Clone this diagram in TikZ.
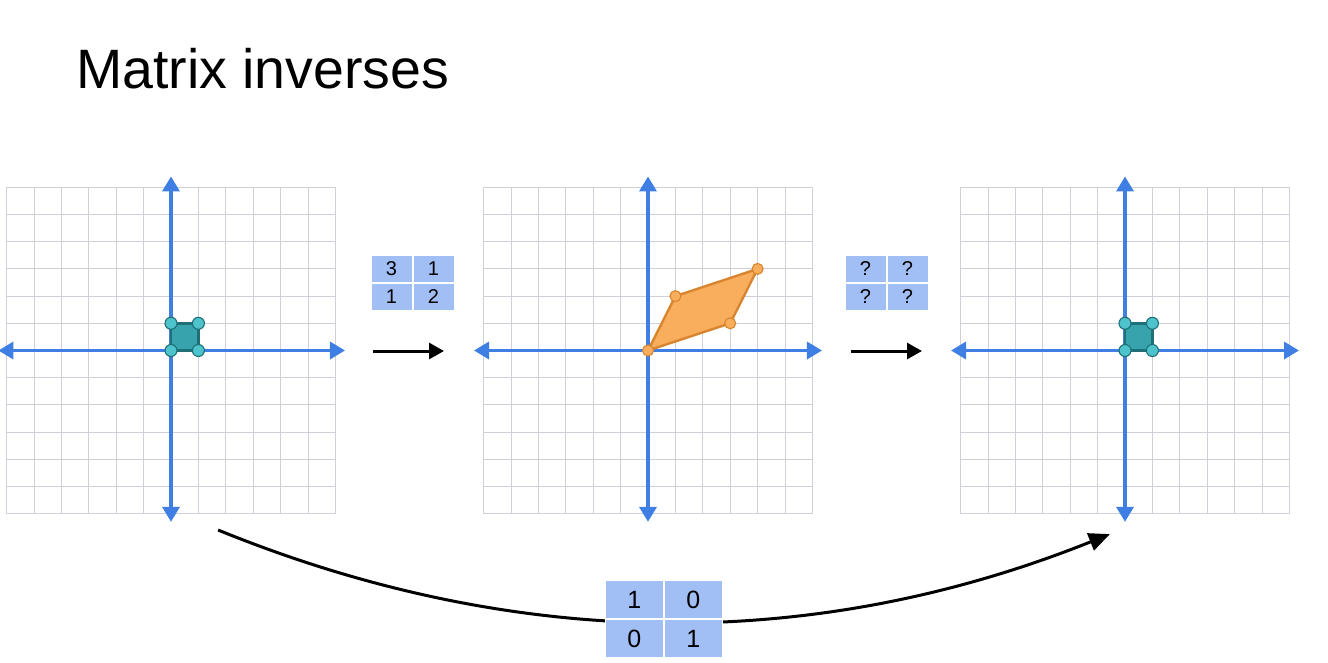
\documentclass[tikz,border=0pt]{standalone}
\usepackage{fontspec}
\setmainfont{Liberation Sans}
\usetikzlibrary{arrows.meta,matrix}
\definecolor{gridc}{HTML}{D0D0D8}
\definecolor{axisc}{HTML}{3F7FE4}
\definecolor{cellc}{HTML}{A2BFF5}
\definecolor{teal1}{HTML}{36A3AD}
\definecolor{teal2}{HTML}{1E6F78}
\definecolor{teal3}{HTML}{4EC3CC}
\definecolor{org1}{HTML}{F8AE5C}
\definecolor{org2}{HTML}{D98530}
\tikzset{
  gridline/.style={draw=gridc,line width=1pt},
  axisline/.style={draw=axisc,line width=3.4pt,{Triangle[length=15pt,width=17pt]}-{Triangle[length=15pt,width=17pt]}},
  cell/.style={fill=cellc,minimum width=40pt,minimum height=26pt,inner sep=0pt,font=\fontsize{20}{20}\selectfont,anchor=center},
  bigcell/.style={fill=cellc,minimum width=57pt,minimum height=37pt,inner sep=0pt,font=\fontsize{25}{25}\selectfont,anchor=center},
  maparrow/.style={draw=black,line width=3pt,-{Triangle[length=15pt,width=16pt]}},
  sqshape/.style={fill=teal1,draw=teal2,line width=2.4pt,line join=round},
  sqdot/.style={circle,fill=teal3,draw=teal2,line width=1.1pt,minimum size=12pt,inner sep=0pt},
  pshape/.style={fill=org1,draw=org2,line width=2.4pt,line join=round},
  pdot/.style={circle,fill=org1,draw=org2,line width=1.1pt,minimum size=11pt,inner sep=0pt},
}
\begin{document}
\begin{tikzpicture}[x=1pt,y=-1pt]
\useasboundingbox (0,0) rectangle (1328,662);
\node[anchor=base west,inner sep=0pt,font=\fontsize{55.5}{55.5}\selectfont] (title) at (76,88) {Matrix inverses};

% panel 1
\begin{scope}[shift={(171pt,-350.5pt)},x=27.4pt,y=27.2pt]
  \draw[gridline,step=1] (-6,-6) grid (6,6);
  \draw[axisline] (-6.3,0) -- (6.35,0);
  \draw[axisline] (0,-6.3) -- (0,6.4);
  \draw[sqshape] (0,0) rectangle (1,1);
  \node[sqdot] (a1) at (0,0) {};
  \node[sqdot] (a2) at (1,0) {};
  \node[sqdot] (a3) at (1,1) {};
  \node[sqdot] (a4) at (0,1) {};
  \coordinate (cstart) at (1.72,-6.6);
\end{scope}

% panel 2
\begin{scope}[shift={(648pt,-350.5pt)},x=27.4pt,y=27.2pt]
  \draw[gridline,step=1] (-6,-6) grid (6,6);
  \draw[axisline] (-6.35,0) -- (6.35,0);
  \draw[axisline] (0,-6.3) -- (0,6.4);
  \draw[pshape] (0,0) -- (3,1) -- (4,3) -- (1,2) -- cycle;
  \node[pdot] (b1) at (0,0) {};
  \node[pdot] (b2) at (3,1) {};
  \node[pdot] (b3) at (4,3) {};
  \node[pdot] (b4) at (1,2) {};
\end{scope}

% panel 3
\begin{scope}[shift={(1125pt,-350.5pt)},x=27.4pt,y=27.2pt]
  \draw[gridline,step=1] (-6,-6) grid (6,6);
  \draw[axisline] (-6.35,0) -- (6.35,0);
  \draw[axisline] (0,-6.3) -- (0,6.4);
  \draw[sqshape] (0,0) rectangle (1,1);
  \node[sqdot] (c1) at (0,0) {};
  \node[sqdot] (c2) at (1,0) {};
  \node[sqdot] (c3) at (1,1) {};
  \node[sqdot] (c4) at (0,1) {};
  \coordinate (cend) at (-0.55,-6.75);
\end{scope}

% matrices
\matrix (m1) [matrix of nodes,nodes={cell},column sep=2pt,row sep=2pt,inner sep=0pt] at (412.5,283) {3 & 1\\ 1 & 2\\};
\matrix (m2) [matrix of nodes,nodes={cell},column sep=2pt,row sep=2pt,inner sep=0pt] at (886.5,283) {? & ?\\ ? & ?\\};

% short arrows
\coordinate (s1a) at (373,351);
\coordinate (s1b) at (444,351);
\coordinate (s2a) at (851,351);
\coordinate (s2b) at (922,351);
\draw[maparrow] (s1a) -- (s1b);
\draw[maparrow] (s2a) -- (s2b);

% curved arrow
\draw[draw=black,line width=3pt,-{Triangle[length=21pt,width=18pt]}] (cstart) .. controls (515,651) and (813,653) .. (cend);
\matrix (m3) [matrix of nodes,nodes={bigcell},column sep=2pt,row sep=2pt,inner sep=1pt,fill=white] at (663.7,619.3) {1 & 0\\ 0 & 1\\};
\end{tikzpicture}
\end{document}
